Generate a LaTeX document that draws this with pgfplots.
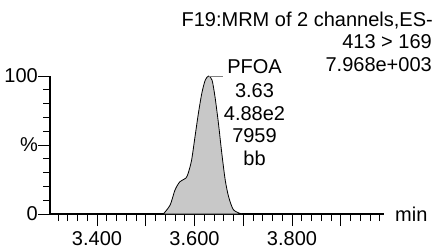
\documentclass[border=0pt]{standalone}
\usepackage{pgfplots}
\pgfplotsset{compat=1.18}
\usepackage{fontspec}
\setmainfont{Liberation Sans}
\begin{document}
\fontsize{20bp}{23bp}\selectfont
\begin{tikzpicture}[x=1bp,y=1bp]
\useasboundingbox (0,0) rectangle (436,249);
\begin{axis}[
  at={(50bp,35bp)}, anchor=south west,
  scale only axis, width=334bp, height=138bp,
  xmin=3.3036, xmax=3.9887, ymin=0, ymax=100,
  axis lines*=left,
  axis line style={line width=1.2bp},
  tick align=outside,
  xtick={3.4,3.5,3.6,3.7,3.8,3.9},
  xticklabels={3.400,,3.600,,3.800,},
  minor xtick={3.32,3.34,3.36,3.38,3.42,3.44,3.46,3.48,3.52,3.54,3.56,3.58,3.62,3.64,3.66,3.68,3.72,3.74,3.76,3.78,3.82,3.84,3.86,3.88,3.92,3.94,3.96,3.98},
  ytick={0,50,100}, yticklabels={0,\%,100},
  minor ytick={10,20,30,40,60,70,80,90},
  major tick length=12bp, minor tick length=7bp,
  tick style={black, line width=0.8bp},
  xticklabel style={font=\fontsize{20bp}{23bp}\selectfont, inner sep=0pt, yshift=-5bp},
  yticklabel style={font=\fontsize{20bp}{23bp}\selectfont, inner sep=0pt},
  clip=false,
]
\addplot[draw=black, line width=0.8bp, fill={rgb,255:red,200;green,200;blue,200}, smooth, tension=0.45] coordinates {
(3.536,0) (3.550,6.5) (3.560,17.4) (3.570,23.4) (3.582,25.9) (3.587,29.5) (3.594,39) (3.601,56) (3.608,73) (3.615,87.5) (3.622,97) (3.629,100) (3.636,97) (3.642,85) (3.649,66) (3.656,44) (3.663,24.6) (3.670,12.5) (3.680,3) (3.697,0)
} \closedcycle;
\draw[gray, line width=0.8bp] (axis cs:3.629,100) -- (axis cs:3.658,100);
\end{axis}
\node[anchor=base east, inner sep=0pt] at (433,223) {F19:MRM of 2 channels,ES-};
\node[anchor=base east, inner sep=0pt] at (432,200.5) {413 > 169};
\node[anchor=base east, inner sep=0pt] at (432,178) {7.968e+003};
\node[anchor=base, inner sep=0pt] at (254.5,176) {PFOA};
\node[anchor=base, inner sep=0pt] at (254.5,152) {3.63};
\node[anchor=base, inner sep=0pt] at (254.5,129) {4.88e2};
\node[anchor=base, inner sep=0pt] at (254.5,106.5) {7959};
\node[anchor=base, inner sep=0pt] at (254.5,83.5) {bb};
\node[anchor=base west, inner sep=0pt] at (395,28) {min};
\end{tikzpicture}
\end{document}
